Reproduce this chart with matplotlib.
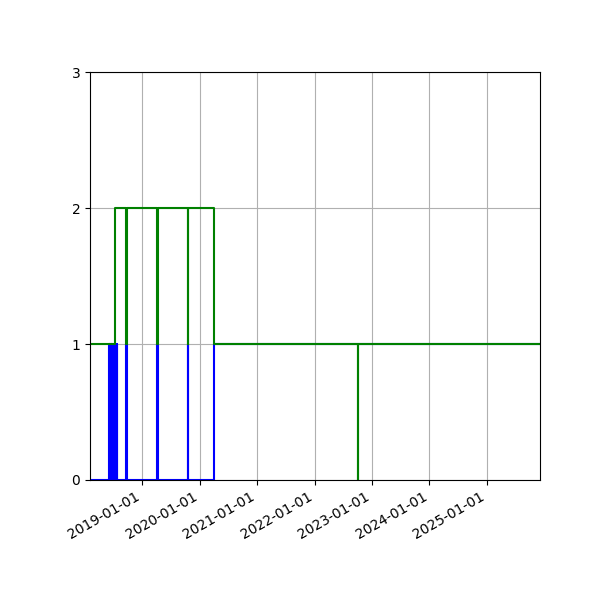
import numpy as np
import pandas as pd
import matplotlib
matplotlib.use("Agg")
import matplotlib.pyplot as plt
import matplotlib.dates as mdates

# change points for a steps-post plot (value holds until next date)
blue_dates = ["2018-02-03",
              "2018-06-05", "2018-06-08", "2018-06-10", "2018-06-12",
              "2018-06-14", "2018-06-16", "2018-06-19", "2018-06-21",
              "2018-06-24", "2018-06-26", "2018-06-28", "2018-06-30",
              "2018-07-03", "2018-07-05", "2018-07-08", "2018-07-10",
              "2018-07-13", "2018-07-15", "2018-07-18", "2018-07-20",
              "2018-07-22", "2018-07-24",
              "2018-09-21", "2018-09-25",
              "2019-04-06", "2019-04-09",
              "2019-10-17", "2019-10-20",
              "2020-04-03", "2025-12-05"]
blue_vals = [0,
             1, 0, 1, 0,
             1, 0, 1, 0,
             1, 0, 1, 0,
             1, 0, 1, 0,
             1, 0, 1, 0,
             1, 0,
             1, 0,
             1, 0,
             1, 0,
             1, 1]

green_dates = ["2018-02-03", "2018-07-15",
               "2018-09-21", "2018-09-25",
               "2019-04-06", "2019-04-09",
               "2019-10-17", "2019-10-20",
               "2020-04-03",
               "2022-10-02", "2022-10-04",
               "2025-12-05"]
green_vals = [1, 2,
              1, 2,
              1, 2,
              1, 2,
              1,
              0, 1,
              1]

bd = pd.to_datetime(blue_dates)
gd = pd.to_datetime(green_dates)

fig = plt.figure(figsize=(6, 6), dpi=100)
ax = fig.add_subplot(111)
ax.plot(bd, blue_vals, color="blue", drawstyle="steps-post", linewidth=1.5)
ax.plot(gd, green_vals, color="green", drawstyle="steps-post", linewidth=1.5)

ax.set_ylim(0, 3)
ax.set_yticks([0, 1, 2, 3])
ax.set_xlim(gd[0], gd[-1])
ax.xaxis.set_major_locator(mdates.YearLocator())
ax.xaxis.set_major_formatter(mdates.DateFormatter("%Y-%m-%d"))
ax.grid(True)
fig.autofmt_xdate()
fig.subplots_adjust(left=0.15, right=0.9, bottom=0.2, top=0.88)

plt.savefig("out.png", dpi=100)
